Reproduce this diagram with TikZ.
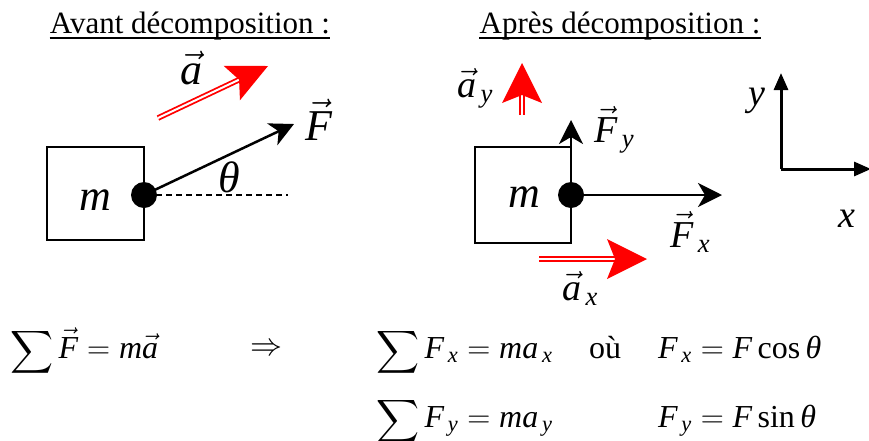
\RequirePackage{fix-cm}
\documentclass[tikz,border=0pt]{standalone}
\usepackage{amsmath}
\usepackage{fontspec}
\setmainfont{Liberation Serif}
\usetikzlibrary{arrows.meta,calc}
\newcommand\mi[1]{\text{\itshape #1}}
\newcommand\vv[1]{\vec{\mi{#1}}}
\newcommand\bigsum{\mathop{\raisebox{-4pt}{\scalebox{1.2}{$\displaystyle\sum$}}}}
\definecolor{accred}{RGB}{255,0,0}
\newcommand\accarrow[3]{%
  \coordinate (hb) at ($(#2)!40pt!(#1)$);
  \coordinate (hn) at ($(#2)!32pt!(#1)$);
  \draw[accshaft] (#1) -- ($(#2)!30pt!(#1)$);
  \fill[accred] (#2) -- ($(hb)!#3!90:(#2)$) -- (hn) -- ($(hb)!#3!-90:(#2)$) -- cycle;
}
\begin{document}
\begin{tikzpicture}[x=1pt,y=-1pt,
  title/.style={font=\fontsize{31}{31}\selectfont, inner sep=0pt, anchor=base},
  bigl/.style={font=\fontsize{44}{44}\selectfont, inner sep=0pt, anchor=base west},
  lab/.style={font=\fontsize{38}{38}\selectfont, inner sep=0pt, anchor=base west},
  eq/.style={font=\fontsize{32}{32}\selectfont, inner sep=0pt, anchor=base west},
  mass/.style={draw, line width=1.5pt, inner sep=0pt},
  dot/.style={circle, fill, inner sep=0pt, minimum size=26pt},
  force/.style={line width=2.5pt, -{Stealth[length=24pt,width=24pt,inset=7pt]}},
  axis/.style={line width=3pt, -{Triangle[length=17pt,width=14pt]}},
  accshaft/.style={draw=accred, double=white, line width=1.8pt, double distance=2pt},
  uline/.style={line width=1.3pt},
]
\useasboundingbox (0,0) rectangle (869,440);

% titles
\node[title] (t1) at (190,33) {Avant décomposition :};
\draw[uline] ([yshift=-5pt]t1.base west) -- ([yshift=-5pt]t1.base east);
\node[title] (t2) at (620,33) {Après décomposition :};
\draw[uline] ([yshift=-5pt]t2.base west) -- ([yshift=-5pt]t2.base east);

% ---- left diagram
\node[mass, minimum width=97pt, minimum height=93pt] (b1) at (95.5,193.5) {};
\node[bigl] (m1) at (79,210) {\mi{m}};
\coordinate (dashend) at (288,195);
\coordinate (Ftip) at (294,124);
\node[dot] (d1) at (144,195) {};
\draw[line width=1.4pt, dash pattern=on 6pt off 4pt] (d1.center) ++(12,0) -- (dashend);
\draw[force] (d1.center) -- (Ftip);
\node[bigl] (Fl) at (305,140) {$\vv{F}$};
\node[bigl] (th) at (218,192) {\mi{θ}};
\coordinate (a1s) at (158,118);
\coordinate (a1t) at (268,66);
\accarrow{a1s}{a1t}{19pt}
\node[bigl] (al) at (180,84) {$\vv{a}$};

% ---- right diagram
\node[mass, minimum width=96pt, minimum height=96pt] (b2) at (523,195) {};
\node[bigl] (m2) at (508,207) {\mi{m}};
\node[dot] (d2) at (571,195) {};
\coordinate (Fxtip) at (722,195);
\coordinate (Fytip) at (571,120);
\draw[force] (d2.center) -- (Fxtip);
\draw[force] (d2.center) -- (Fytip);
\node[lab] (Fyl) at (594,142) {$\vv{F}_{\,\mi{y}}$};
\node[lab] (Fxl) at (670,247) {$\vv{F}_{\,\mi{x}}$};
\coordinate (ays) at (522,115);
\coordinate (ayt) at (522,63);
\accarrow{ays}{ayt}{20pt}
\coordinate (axs) at (539,259);
\coordinate (axt) at (647,259);
\accarrow{axs}{axt}{20pt}
\node[lab] (ayl) at (457,97) {$\vv{a}_{\,\mi{y}}$};
\node[lab] (axl) at (562,300) {$\vv{a}_{\,\mi{x}}$};

% ---- axes
\coordinate (O) at (781,169);
\coordinate (Yt) at (781,73);
\coordinate (Xt) at (871,169);
\draw[axis] (O) -- (Yt);
\draw[axis] (O) -- (Xt);
\node[lab] (yl) at (748,105) {\mi{y}};
\node[lab] (xl) at (838,227) {\mi{x}};

% ---- equations
\node[eq] (e1) at (10,358) {$\bigsum\vv{F} = \mi{m}\vv{a}$};
\node[eq, anchor=center] (imp) at (266,350) {$\Rightarrow$};
\node[eq] (e2) at (376,358) {$\bigsum\mi{F}_{\,\mi{x}} = \mi{m}\mi{a}_{\,\mi{x}}$};
\node[eq] (ou) at (589,358) {où};
\node[eq] (e3) at (658,358) {$\mi{F}_{\,\mi{x}} = \mi{F}\,\text{cos}\,\mi{θ}$};
\node[eq] (e4) at (376,427) {$\bigsum\mi{F}_{\,\mi{y}} = \mi{m}\mi{a}_{\,\mi{y}}$};
\node[eq] (e5) at (658,427) {$\mi{F}_{\,\mi{y}} = \mi{F}\,\text{sin}\,\mi{θ}$};
\end{tikzpicture}
\end{document}
